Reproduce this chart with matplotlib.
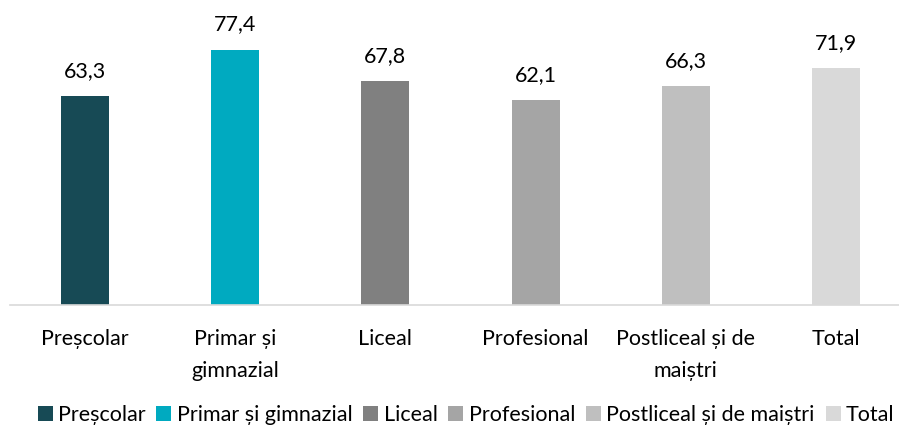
import matplotlib.pyplot as plt
from matplotlib.patches import Patch

categories = ['Preșcolar', 'Primar și gimnazial', 'Liceal', 'Profesional',
              'Postliceal și de maiștri', 'Total']
tick_labels = ['Preșcolar', 'Primar și\ngimnazial', 'Liceal', 'Profesional',
               'Postliceal și de\nmaiștri', 'Total']
values = [63.3, 77.4, 67.8, 62.1, 66.3, 71.9]
colors = ['#174A55', '#00AAC0', '#808080', '#A5A5A5', '#BFBFBF', '#D9D9D9']

plt.rcParams['font.family'] = ['Lato', 'DejaVu Sans']

fig = plt.figure(figsize=(8.99, 4.30), dpi=100)
ax = fig.add_axes([10 / 899, 1 - 305 / 430, 901 / 899, 300 / 430])

x = range(len(values))
bars = ax.bar(x, values, width=0.32, color=colors, zorder=2)

for xi, v in zip(x, values):
    ax.annotate(f"{v:.1f}".replace('.', ','), (xi, v), xytext=(0, 11),
                textcoords='offset points', ha='center', va='bottom',
                fontsize=15.5, color='#000000')

ax.set_xlim(-0.5, 5.5)
ax.set_ylim(0, 91)
ax.set_xticks(list(x))
ax.set_xticklabels(tick_labels, fontsize=15.5, va='top', linespacing=1.75)
ax.tick_params(axis='x', length=0, pad=17)
ax.set_yticks([])
for s in ['top', 'right', 'left']:
    ax.spines[s].set_visible(False)
ax.spines['bottom'].set_color('#D9D9D9')
ax.spines['bottom'].set_linewidth(1.2)

handles = [Patch(facecolor=c, edgecolor='none') for c in colors]
fig.legend(handles, categories, loc='center', ncol=6, frameon=False,
           bbox_to_anchor=(466 / 899, 1 - 415 / 430), fontsize=15.5,
           handlelength=0.7, handleheight=0.7, handletextpad=0.25,
           columnspacing=0.5)

fig.savefig('out.png', dpi=100)
